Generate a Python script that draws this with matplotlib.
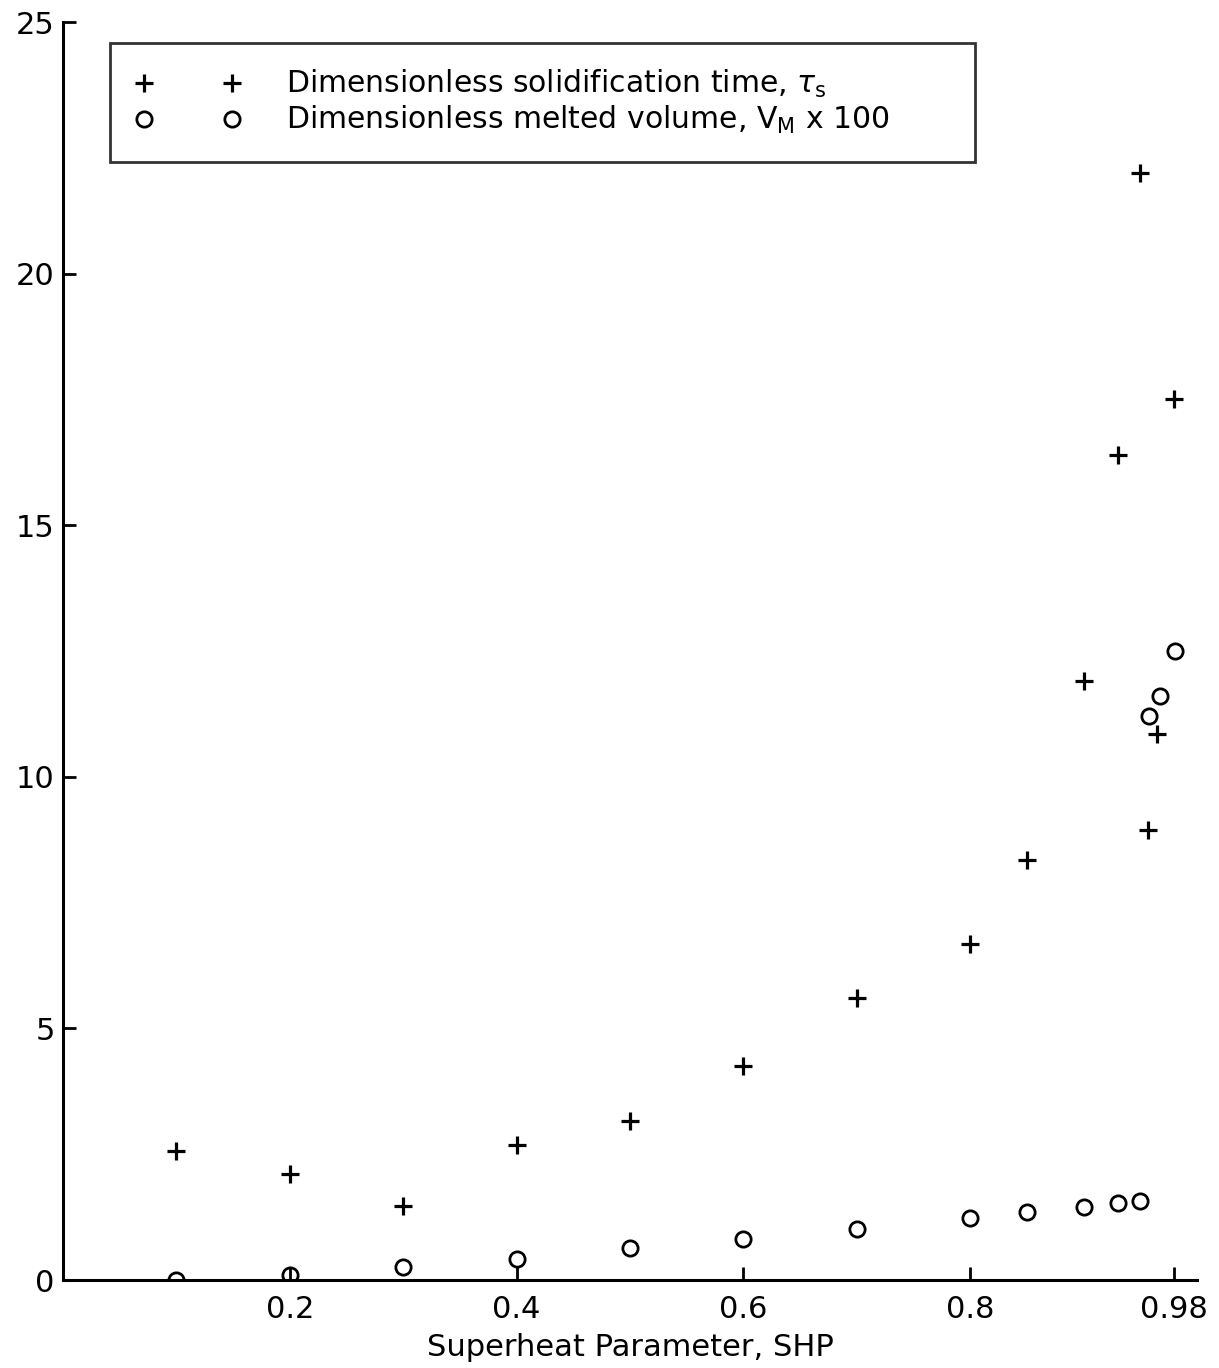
import matplotlib
matplotlib.use("Agg")
import matplotlib.pyplot as plt

plt.rcParams['font.family'] = ['DejaVu Sans']
plt.rcParams['mathtext.fontset'] = 'dejavusans'

# Dimensionless solidification time (tau_s)
shp_tau = [0.10, 0.20, 0.30, 0.40, 0.50, 0.60, 0.70, 0.80, 0.85, 0.90, 0.93, 0.95, 0.957, 0.965, 0.98]
tau_s = [2.56, 2.11, 1.47, 2.68, 3.16, 4.25, 5.60, 6.68, 8.35, 11.9, 16.4, 22.0, 8.94, 10.85, 17.5]

# Dimensionless melted volume (V_M x 100)
shp_vm = [0.10, 0.20, 0.30, 0.40, 0.50, 0.60, 0.70, 0.80, 0.85, 0.90, 0.93, 0.95, 0.958, 0.967, 0.981]
vm_100 = [0.0, 0.10, 0.26, 0.42, 0.64, 0.82, 1.01, 1.23, 1.35, 1.45, 1.53, 1.57, 11.2, 11.6, 12.5]

xticks = [0.2, 0.4, 0.6, 0.8, 0.98]
xticklabels = ['0.2', '0.4', '0.6', '0.8', '0.98']
yticks = [0, 5, 10, 15, 20, 25]

W, H = 1219, 1368
fig = plt.figure(figsize=(W / 100, H / 100), dpi=100)
ax = fig.add_axes([63 / W, (H - 1280) / H, (1197 - 63) / W, (1280 - 22) / H])

ax.plot(shp_tau, tau_s, linestyle='none', marker='+', markersize=13, markeredgewidth=2.3,
        color='black', label=r'Dimensionless solidification time, $\tau_{\mathrm{s}}$')
ax.plot(shp_vm, vm_100, linestyle='none', marker='o', markersize=11, markeredgewidth=2.0,
        markerfacecolor='none', markeredgecolor='black',
        label=r'Dimensionless melted volume, $\mathrm{V_M}$ x 100')

ax.set_xlim(0, 1.0)
ax.set_ylim(0, 25)
ax.set_xticks(xticks)
ax.set_xticklabels(xticklabels)
ax.set_yticks(yticks)
ax.tick_params(direction='in', length=9.5, width=2.0, labelsize=22, colors='black')
ax.tick_params(axis='x', pad=11)
ax.tick_params(axis='y', pad=6)
for s in ['top', 'right']:
    ax.spines[s].set_visible(False)
for s in ['left', 'bottom']:
    ax.spines[s].set_linewidth(2.2)
ax.set_xlabel('Superheat Parameter, SHP', fontsize=22, labelpad=6)

leg = ax.legend(loc='upper left', bbox_to_anchor=(110 / W, 1 - 43 / H, (975 - 110) / W, 0.0),
                bbox_transform=fig.transFigure, mode='expand', numpoints=2,
                handlelength=3.55, handletextpad=1.5, borderpad=0.85, labelspacing=0.12,
                fontsize=21.5, fancybox=False, frameon=True, borderaxespad=0)
leg.get_frame().set_edgecolor('black')
leg.get_frame().set_linewidth(2.0)

fig.savefig('out.png', dpi=100)
